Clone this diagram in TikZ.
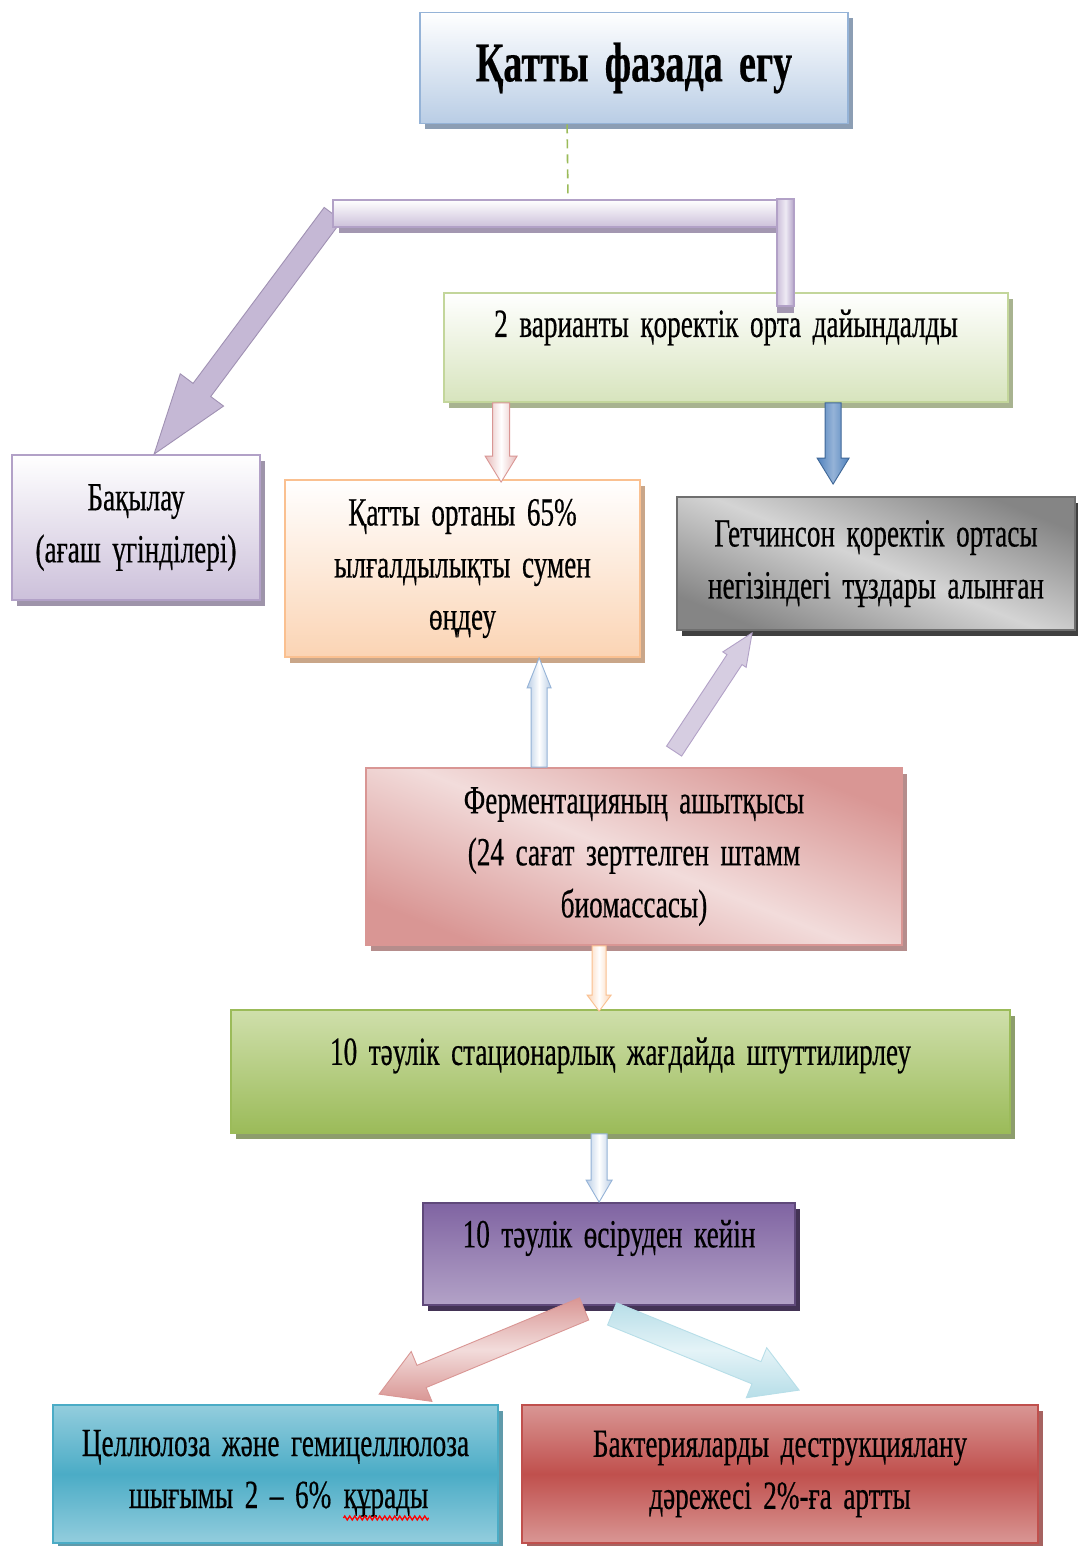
\documentclass[tikz,border=0pt]{standalone}
\usepackage{fontspec}
\setmainfont{Liberation Serif}[FakeStretch=0.68, WordSpace=1.7, FakeBold=0.4]
\usetikzlibrary{calc,shadows,decorations.pathmorphing}
\definecolor{ttlB}{HTML}{95B3D7}\definecolor{ttlF}{HTML}{B9CDE5}
\definecolor{grnB}{HTML}{C3D69B}\definecolor{grnF}{HTML}{D7E4BD}
\definecolor{lavB}{HTML}{B2A1C7}\definecolor{lavF}{HTML}{CCC0DA}\definecolor{lavL}{HTML}{EEEAF4}
\definecolor{orgB}{HTML}{FAC090}\definecolor{orgF}{HTML}{FBD4B4}\definecolor{orgL}{HTML}{FDE9D9}
\definecolor{gryB}{HTML}{6F6F6F}\definecolor{gryD}{HTML}{858585}\definecolor{gryL}{HTML}{D4D4D4}
\definecolor{pnkB}{HTML}{D99694}\definecolor{pnkL}{HTML}{F2DCDB}\definecolor{pnkM}{HTML}{E6B9B8}
\definecolor{gbgB}{HTML}{9BBB59}\definecolor{gbgT}{HTML}{CFDFAB}
\definecolor{purB}{HTML}{5F497A}\definecolor{purT}{HTML}{8064A2}\definecolor{purL}{HTML}{B3A2C7}
\definecolor{cyaB}{HTML}{4BACC6}\definecolor{cyaL}{HTML}{93CDDD}
\definecolor{redB}{HTML}{C0504D}\definecolor{redL}{HTML}{D99694}
\definecolor{bluB}{HTML}{4F81BD}\definecolor{bluL}{HTML}{95B3D7}
\definecolor{icyB}{HTML}{B7DEE8}\definecolor{icyL}{HTML}{E4F3F7}
% fat block arrow: style, from, to, shaft half width, head half width, head length
\newcommand\fatarrow[6]{%
  \path[#1] let \p1=(#2), \p2=(#3),
    \n1={veclen(\x2-\x1,\y2-\y1)},
    \n2={(\x2-\x1)/\n1}, \n3={(\y2-\y1)/\n1} in
    ({\x1-\n3*#4},{\y1+\n2*#4})
    -- ({\x2-\n2*#6-\n3*#4},{\y2-\n3*#6+\n2*#4})
    -- ({\x2-\n2*#6-\n3*#5},{\y2-\n3*#6+\n2*#5})
    -- (\p2)
    -- ({\x2-\n2*#6+\n3*#5},{\y2-\n3*#6-\n2*#5})
    -- ({\x2-\n2*#6+\n3*#4},{\y2-\n3*#6-\n2*#4})
    -- ({\x1+\n3*#4},{\y1-\n2*#4}) -- cycle;}
\tikzset{
  box/.style={rectangle, inner sep=0pt, line width=1.8pt, align=center,
    font=\fontsize{40}{52}\selectfont},
  shad/.style={drop shadow={shadow xshift=5pt, shadow yshift=-6pt, fill=#1, opacity=1}},
  lbl/.style={inner sep=0pt, align=center, font=\fontsize{40}{52}\selectfont},
  vshade/.style 2 args={draw=#1, line width=0.9pt, left color=#2, right color=#2, middle color=white},
  hshade/.style n args={3}{draw=#1, line width=0.9pt, top color=#2, bottom color=#2, middle color=#3},
}
\begin{document}
\begin{tikzpicture}[x=1pt,y=-1pt]
\useasboundingbox[fill=white] (0,0) rectangle (1077,1546);

% boxes
\node[box, draw=ttlB, top color=white, bottom color=ttlF, shad=ttlB!60!gray,
  minimum width=428pt, minimum height=111pt,
  font=\fontsize{56}{60}\selectfont\bfseries] (title) at (634,68) {Қатты фазада егу};
\node[box, draw=grnB, top color=white, bottom color=grnF, shad=grnB!60!gray,
  minimum width=564pt, minimum height=109pt] (g2) at (726,347.5) {};
\node[lbl] (g2t) at ($(g2.center)+(0,-20)$) {2 варианты қоректік орта дайындалды};
\node[box, draw=lavB, top color=white, bottom color=lavF, shad=lavB!60!gray,
  minimum width=248pt, minimum height=145pt] (bak) at (136,527.5) {Бақылау\\(ағаш үгінділері)};
\node[box, draw=orgB, top color=white, bottom color=orgF, shad=orgB!60!gray,
  minimum width=355pt, minimum height=177pt] (org) at (462.5,568.5) {Қатты ортаны 65\%\\ылғалдылықты сумен\\өңдеу};
\node[box, draw=gryB, left color=gryD, right color=gryD, middle color=gryL, shading angle=-22,
  shad=black!75, minimum width=398pt, minimum height=133pt] (gry) at (876,563.5)
  {Гетчинсон қоректік ортасы\\негізіндегі тұздары алынған};
\node[box, draw=pnkB, left color=pnkB, right color=pnkB, middle color=pnkL, shading angle=-22,
  shad=pnkB!60!gray, minimum width=536pt, minimum height=177pt] (pnk) at (634,856.5)
  {Ферментацияның ашытқысы\\(24 сағат зерттелген штамм\\биомассасы)};
\node[box, draw=gbgB, top color=gbgT, bottom color=gbgB, shad=gbgB!50!gray,
  minimum width=779pt, minimum height=123pt] (gbg) at (620.5,1071.5) {};
\node[lbl] (gbgt) at ($(gbg.center)+(0,-16)$) {10 тәулік стационарлық жағдайда штуттилирлеу};
\node[box, draw=purB, top color=purT, bottom color=purL, shad=purB!70!black,
  minimum width=372pt, minimum height=102pt] (pur) at (609,1254) {};
\node[lbl] (purt) at ($(pur.center)+(0,-16)$) {10 тәулік өсіруден кейін};
\node[box, draw=cyaB, top color=cyaL, bottom color=cyaL, middle color=cyaB, shad=cyaB!60!gray,
  minimum width=445pt, minimum height=138pt] (cya) at (275.5,1474) {};
\node[lbl, anchor=base] (cyl1) at ($(cya.center)+(0,-18)$) {Целлюлоза және гемицеллюлоза};
\node[lbl, anchor=base east] (cyl2a) at ($(cyl1.base)+(56,52)$) {шығымы 2 – 6\%};
\node[lbl, anchor=base west] (cyl2b) at ($(cyl2a.base east)+(12,0)$) {құрады};
\draw[red, line width=1.3pt, decorate, decoration={zigzag, amplitude=2pt, segment length=5pt}]
  ($(cyl2b.base west)+(0,10)$) -- ($(cyl2b.base east)+(0,10)$);
\node[box, draw=redB, top color=redL, bottom color=redL, middle color=redB, shad=redB!60!gray,
  minimum width=516pt, minimum height=138pt] (red) at (780,1474)
  {Бактерияларды деструкциялану\\дәрежесі 2\%-ға артты};

% connectors
\coordinate (barL) at (333,214);
\coordinate (barR) at ($(g2.north west)+(343,-79)$);
\coordinate (barB) at ($(g2.north west)+(343,7)$);
\draw[gbgB, line width=1.6pt, dash pattern=on 9pt off 6pt] ($(title.south west)+(148,0)$) -- ($(barL)+(235,-14)$);

\fatarrow{draw=lavB!90!black, line width=0.9pt, fill=lavB!75!white}
  {barL}{$(bak.north west)+(143,0)$}{11pt}{27pt}{80pt}
% elbow bar
\fill[lavB!70!gray] ($(barL)+(6,14)$) rectangle ($(barR)+(-9,20)$);
\path[draw=lavB, line width=1.6pt, top color=white, bottom color=lavF] ($(barL)+(0,-14)$) rectangle ($(barR)+(-9,14)$);
\fill[lavB!70!gray] ($(barB)+(-9,0)$) rectangle ($(barB)+(8,14)$);
\path[draw=lavB, line width=1.6pt, left color=lavF, right color=lavB, middle color=lavL] ($(barR)+(-9,-14)$) rectangle ($(barB)+(8,7)$);

\fatarrow{vshade={pnkB}{pnkM}}{$(g2.south west)+(58,0)$}{$(org.north west)+(217,3)$}{8.5pt}{16pt}{26pt}
\fatarrow{draw=bluB!80!black, line width=0.9pt, left color=bluB, right color=bluB, middle color=bluL}
  {$(g2.south west)+(390,0)$}{$(gry.north west)+(157,-12)$}{8pt}{16pt}{26pt}
\fatarrow{vshade={ttlB}{ttlF}}{$(pnk.north west)+(174,0)$}{$(org.south west)+(255,0)$}{8pt}{12pt}{30pt}
\fatarrow{draw=lavB, line width=0.9pt, fill=lavF!80!white}
  {$(pnk.north west)+(309,-16)$}{$(gry.south west)+(76,2)$}{9pt}{14pt}{32pt}
\fatarrow{vshade={orgB}{orgF}}{$(pnk.south west)+(234,0)$}{$(gbg.north west)+(369,2)$}{7pt}{12pt}{16pt}
\fatarrow{vshade={ttlB}{ttlF}}{$(gbg.south west)+(369,0)$}{$(pur.north west)+(177,0)$}{8pt}{13pt}{22pt}
\fatarrow{hshade={pnkB}{pnkB}{pnkL}}{$(pur.south west)+(162,3)$}{$(cya.north west)+(327,-10)$}{12pt}{27pt}{46pt}
\fatarrow{hshade={icyB}{icyB}{icyL}}{$(pur.south west)+(190,8)$}{$(red.north west)+(278,-14)$}{12pt}{27pt}{46pt}
\end{tikzpicture}
\end{document}
